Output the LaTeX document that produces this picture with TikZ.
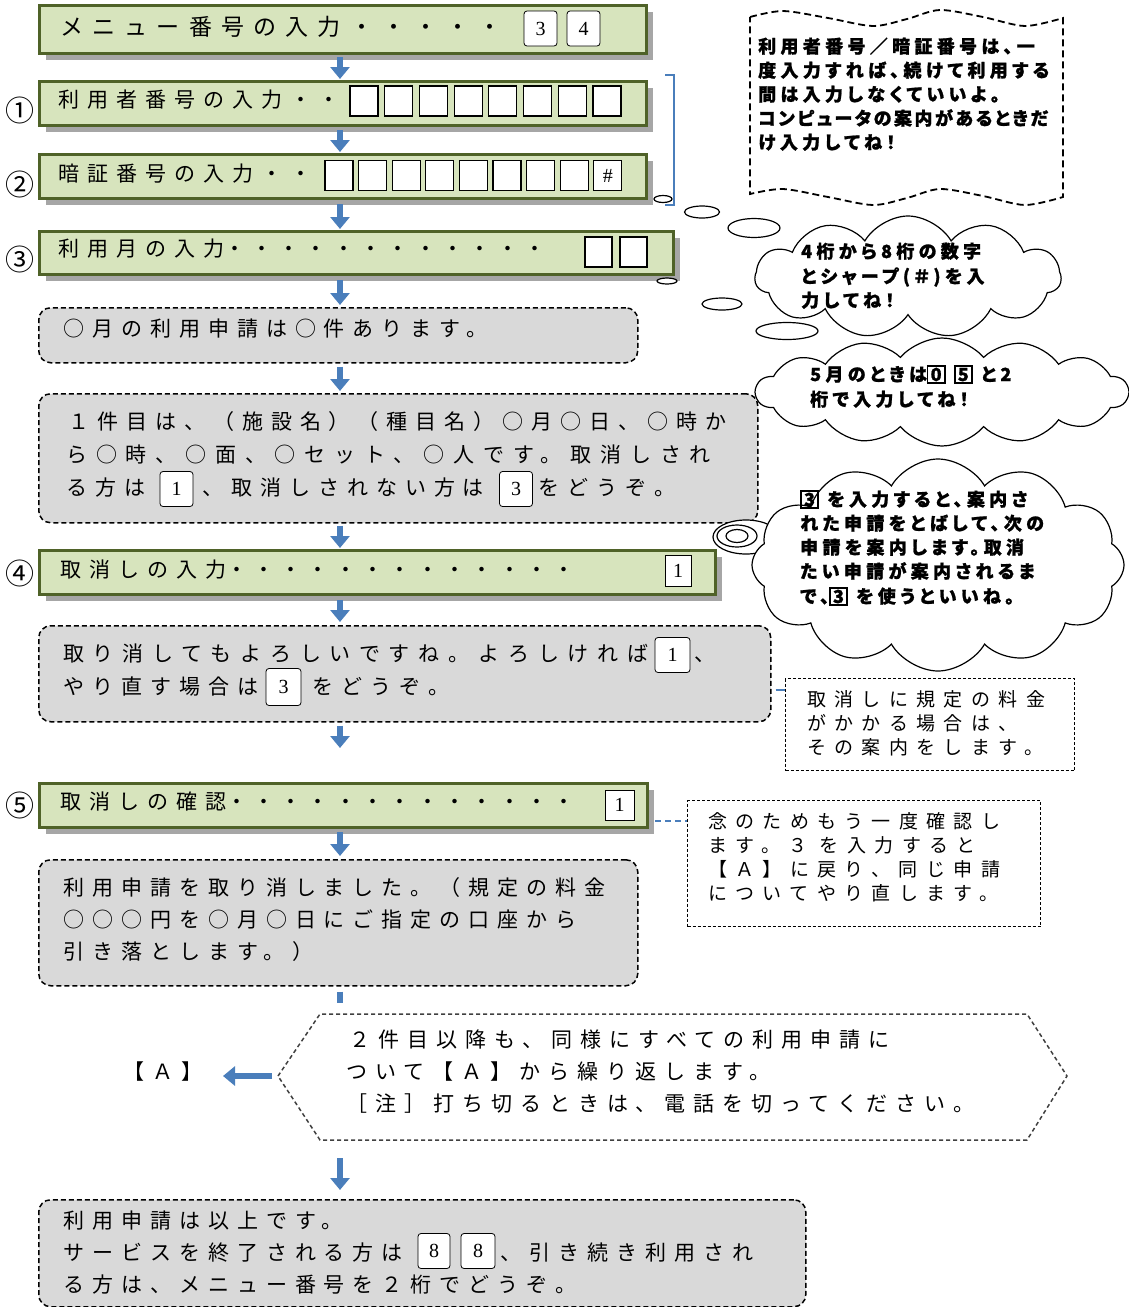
\documentclass[tikz,border=0pt]{standalone}
\usepackage{fontspec}
\setmainfont{Noto Sans CJK JP}
\newfontfamily\mj[LetterSpace=38]{Noto Sans CJK JP}
\newfontfamily\mjw[LetterSpace=42]{Noto Sans CJK JP}
\newfontfamily\mjt[LetterSpace=40]{Noto Sans CJK JP}
\newfontfamily\dotf[LetterSpace=30]{Noto Sans CJK JP}
\newfontfamily\nj[LetterSpace=44]{Noto Sans CJK JP}
\newfontfamily\pop[RawFeature=+palt,LetterSpace=24,BoldFeatures={FakeBold=1.2}]{Noto Sans CJK JP}
\newfontfamily\popn[RawFeature=+palt,LetterSpace=14,BoldFeatures={FakeBold=1.2}]{Noto Sans CJK JP}
\newfontfamily\dig{Liberation Serif}
\usetikzlibrary{shapes.symbols,arrows.meta,shadows}
\setlength\fboxsep{1pt}
\setlength\fboxrule{1.6pt}
\newcommand\pbx[1]{\fbox{\makebox[0.75em]{#1}}}
\definecolor{gfill}{HTML}{D7E4BD}
\definecolor{gline}{HTML}{4F6228}
\definecolor{shadowc}{HTML}{A6A6A6}
\definecolor{grayfill}{HTML}{D9D9D9}
\definecolor{flowblue}{HTML}{4A7EBB}
\begin{document}
\begin{tikzpicture}[x=1pt,y=-1pt,
  gbox/.style={fill=gfill, draw=gline, line width=3pt, anchor=north west, inner sep=0,
    drop shadow={shadow xshift=6pt, shadow yshift=-6pt, fill=shadowc, opacity=1}},
  dbox/.style={fill=grayfill, draw=black, line width=1.5pt, dash pattern=on 5pt off 3pt,
    rounded corners=12pt, anchor=north west, inner sep=0},
  note/.style={draw=black, line width=1pt, dash pattern=on 3pt off 2pt, anchor=north west, inner sep=0},
  flow/.style={draw=flowblue, line width=6pt, -{Triangle[width=19pt,length=12pt]}},
  txt/.style={anchor=west, inner sep=0, text height=17pt, text depth=4pt, font=\mj\fontsize{21}{21}\selectfont},
  ttxt/.style={anchor=west, inner sep=0, text height=19pt, text depth=4pt, font=\mjt\fontsize{23}{23}\selectfont},
  ntxt/.style={anchor=west, inner sep=0, text height=15.5pt, text depth=3.5pt, font=\nj\fontsize{19}{19}\selectfont},
  ptxt/.style={anchor=west, inner sep=0, text height=15pt, text depth=3pt, font=\pop\bfseries\fontsize{18}{18}\selectfont},
  circ/.style={inner sep=0, font=\fontsize{29}{29}\selectfont},
  sq/.style={draw=black, fill=white, line width=1.2pt, inner sep=0, minimum width=28, minimum height=30},
  digbox/.style={draw=black, fill=white, line width=0.8pt, rounded corners=3pt, inner sep=0,
    minimum width=33, minimum height=35, font=\dig\fontsize{20}{20}\selectfont},
  sdig/.style={draw=black, fill=white, line width=1pt, inner sep=0, font=\dig\fontsize{20}{20}\selectfont},
  bubble/.style={draw=black, line width=1.2pt, fill=white},
  cloudc/.style={cloud, draw=black, fill=white, line width=1.2pt, inner sep=0, cloud puff arc=120}
]
\useasboundingbox (0,0) rectangle (1129,1307);
\coordinate (ax) at (340,0);

% ---------- green input rows ----------
\node[gbox, minimum width=607, minimum height=48] (m0) at (38,4) {};
\node[ttxt] (t0) at (60,28) {メニュー番号の入力・・・・・};
\node[digbox] (b03) at (540.5,28.5) {3};
\node[digbox] (b04) at (583.5,28.5) {4};

\node[gbox, minimum width=607, minimum height=44] (m1) at (38,80) {};
\node[circ] (c1) at (20,110) {①};
\node[txt] (t1) at (58,101) {利用者番号の入力・・};
\foreach \i in {0,...,7} \node[sq] (u\i) at ({364+34.7*\i},101) {};

\node[gbox, minimum width=607, minimum height=44] (m2) at (38,153) {};
\node[circ] (c2) at (20,184) {②};
\node[txt] (t2) at (58,175) {暗証番号の入力・・};
\foreach \i in {0,...,7} \node[sq] (p\i) at ({339+33.6*\i},175.5) {};
\node[sq, font=\dig\fontsize{20}{20}\selectfont] (p8) at ({339+33.6*8},175.5) {\#};

\node[gbox, minimum width=634, minimum height=43] (m3) at (38,230) {};
\node[circ] (c3) at (20,259) {③};
\node[txt] (t3) at (58,250) {利用月の入力{\dotf ・・・・・・・・・・・・}};
\node[sq, minimum width=27] (q1) at (598.5,252) {};
\node[sq, minimum width=27] (q2) at (633.5,252) {};

% bracket
\draw[flowblue, line width=1.5pt] (665,75) -- (674,75) -- (674,205) -- (665,205);

% ---------- gray boxes ----------
\node[dbox, minimum width=599, minimum height=55] (g1) at (38,307) {};
\node[txt] (tg1) at (63,330) {○月の利用申請は○件あります。};

\node[dbox, minimum width=719, minimum height=129] (g2) at (38,393) {};
\node[txt] (tg2a) at (68,423) {１件目は、（施設名）（種目名）○月○日、○時か};
\node[txt, font=\mjw\fontsize{21}{21}\selectfont] (tg2b) at (66,456) {ら○時、○面、○セット、○人です。取消しされ};
\node[txt] (tg2c) at (66,489) {る方は};
\node[digbox] (bg21) at (176.5,489) {1};
\node[txt] (tg2d) at (202,489) {、取消しされない方は};
\node[digbox] (bg23) at (516,489) {3};
\node[txt] (tg2e) at (538,489) {をどうぞ。};

\node[gbox, minimum width=676, minimum height=44] (m4) at (38,549) {};
\node[circ] (c4) at (20,573) {④};
\node[txt] (t4) at (60,571) {取消しの入力{\dotf ・・・・・・・・・・・・・}};
\node[sdig, minimum width=26, minimum height=31] (b41) at (678,571) {1};

\node[dbox, minimum width=732, minimum height=96] (g3) at (38,625) {};
\node[txt, font=\mjw\fontsize{21}{21}\selectfont] (tg3a) at (63,655) {取り消してもよろしいですね。よろしければ};
\node[digbox, minimum width=35] (bg31) at (672.5,655) {1};
\node[txt] (tg3b) at (694,655) {、};
\node[txt] (tg3c) at (63,688) {やり直す場合は};
\node[digbox, minimum width=35, minimum height=37] (bg33) at (283.5,687) {3};
\node[txt] (tg3d) at (312,688) {をどうぞ。};

\node[gbox, minimum width=608, minimum height=44] (m5) at (38,782) {};
\node[circ] (c5) at (20,805) {⑤};
\node[txt] (t5) at (60,803) {取消しの確認{\dotf ・・・・・・・・・・・・・}};
\node[sdig, minimum width=29, minimum height=30] (b51) at (619.5,805) {1};

\node[dbox, minimum width=599, minimum height=126] (g4) at (38,859) {};
\node[txt] (tg4a) at (63,889) {利用申請を取り消しました。（規定の料金};
\node[txt] (tg4b) at (63,921) {○○○円を○月○日にご指定の口座から};
\node[txt] (tg4c) at (63,953) {引き落とします。）};

% hexagon
\coordinate (hl) at (278,1076);
\coordinate (hr) at (1067,1076);
\draw[draw=black!75, line width=1.5pt, dash pattern=on 4pt off 3pt]
  (hl) -- (320,1014) -- (1027,1014) -- (hr) -- (1027,1140) -- (320,1140) -- cycle;
\node[txt] (th1) at (349,1041) {２件目以降も、同様にすべての利用申請に};
\node[txt] (th2) at (346,1073) {ついて【Ａ】から繰り返します。};
\node[txt] (th3) at (346,1105) {［注］打ち切るときは、電話を切ってください。};
\node[txt, anchor=center] (alab) at (163,1073) {【Ａ】};
\coordinate (atip) at (223,1076);

\node[dbox, minimum width=767, minimum height=107] (g5) at (38,1199) {};
\node[txt] (tg5a) at (63,1222) {利用申請は以上です。};
\node[txt] (tg5b) at (63,1254) {サービスを終了される方は};
\node[digbox, minimum width=32] (b81) at (434,1251) {8};
\node[digbox, minimum width=34] (b82) at (478,1251) {8};
\node[txt] (tg5c) at (500,1254) {、引き続き利用され};
\node[txt] (tg5d) at (63,1286) {る方は、メニュー番号を２桁でどうぞ。};

% ---------- flow arrows ----------
\draw[flow, shorten <=2pt, shorten >=1pt] (m0.south -| ax) -- (m1.north -| ax);
\draw[flow, shorten <=3pt, shorten >=1pt] (m1.south -| ax) -- (m2.north -| ax);
\draw[flow, shorten <=4pt, shorten >=1pt] (m2.south -| ax) -- (m3.north -| ax);
\draw[flow, shorten <=4pt, shorten >=2pt] (m3.south -| ax) -- (g1.north -| ax);
\draw[flow, shorten <=3pt, shorten >=2pt] (g1.south -| ax) -- (g2.north -| ax);
\draw[flow, shorten <=2pt, shorten >=1pt] (g2.south -| ax) -- (m4.north -| ax);
\draw[flow, shorten <=4pt, shorten >=3pt] (m4.south -| ax) -- (g3.north -| ax);
\coordinate (e8) at (340,748);
\draw[flow, shorten <=3pt] (g3.south -| ax) -- (e8);
\draw[flow, shorten <=3pt, shorten >=3pt] (m5.south -| ax) -- (g4.north -| ax);
\coordinate (e9) at (340,1003);
\draw[draw=flowblue, line width=6pt, shorten <=5pt] (g4.south -| ax) -- (e9);
\coordinate (s10) at (340,1158);
\draw[flow, shorten >=9pt] (s10) -- (g5.north -| ax);
\draw[flow, shorten <=6pt] (hl) -- (atip);

% ---------- notes ----------
\node[note, minimum width=289, minimum height=92] (n1) at (785,678) {};
\node[ntxt] (tn1a) at (807,700) {取消しに規定の料金};
\node[ntxt] (tn1b) at (807,724) {がかかる場合は、};
\node[ntxt] (tn1c) at (807,748) {その案内をします。};
\coordinate (y690) at (0,690);
\draw[flowblue, line width=2pt] (g3.east |- y690) ++(4,0) -- (n1.west |- y690);

\node[note, minimum width=353, minimum height=126] (n2) at (687,800) {};
\node[ntxt] (tn2a) at (708,822) {念のためもう一度確認し};
\node[ntxt] (tn2b) at (708,846) {ます。３ を入力すると};
\node[ntxt] (tn2c) at (708,870) {【Ａ】に戻り、同じ申請};
\node[ntxt] (tn2d) at (708,894) {についてやり直します。};
\coordinate (y821) at (0,821);
\draw[flowblue, line width=2pt, dash pattern=on 6pt off 4pt] (m5.east |- y821) ++(6,0) -- (n2.west |- y821);

% ---------- banner ----------
\draw[black, line width=1.8pt, dash pattern=on 7pt off 4pt]
  plot[smooth] coordinates {(750,17) (783,11) (828,18) (873,26) (907,19) (940,10) (983,17) (1025,26) (1063,18)}
  -- plot[smooth] coordinates {(1063,197) (1025,205) (983,196) (940,189) (907,198) (873,205) (828,197) (783,189) (750,194)}
  -- cycle;
\node[ptxt] (tb1) at (758,47) {利用者番号／暗証番号は、一};
\node[ptxt] (tb2) at (758,71) {度入力すれば、続けて利用する};
\node[ptxt] (tb3) at (758,95) {間は入力しなくていいよ。};
\node[ptxt, font=\popn\bfseries\fontsize{18}{18}\selectfont] (tb4) at (758,119) {コンピュータの案内があるときだ};
\node[ptxt] (tb5) at (758,143) {け入力してね！};

% ---------- thought bubbles ----------
\draw[bubble] (663,199) ellipse [x radius=9, y radius=3.5];
\draw[bubble] (702,212) ellipse [x radius=17.5, y radius=6];
\draw[bubble] (754,228) ellipse [x radius=26, y radius=9.5];
\draw[bubble] (722,304) ellipse [x radius=20, y radius=6];
\draw[bubble] (787,331) ellipse [x radius=31, y radius=8.5];
\draw[bubble] (667,281) ellipse [x radius=10, y radius=3];

\node[cloudc, cloud puffs=11, minimum width=306, minimum height=122] (cl1) at (908,277) {};
\node[ptxt] (tc1a) at (801,252) {4桁から8桁の数字};
\node[ptxt] (tc1b) at (801,277) {とシャープ(＃)を入};
\node[ptxt] (tc1c) at (801,301) {力してね！};

\node[cloudc, cloud puffs=14, cloud puff arc=100, minimum width=372, minimum height=108] (cl2) at (942,392) {};
\node[ptxt] (tc2a) at (810,375) {5月のときは\pbx{0} \pbx{5} と2};
\node[ptxt] (tc2b) at (810,400) {桁で入力してね！};

\draw[bubble] (746,537) ellipse [x radius=33, y radius=17];
\node[cloudc, cloud puffs=12, minimum width=372, minimum height=212] (cl3) at (938,565) {};
\draw[bubble, fill=none] (737,536) ellipse [x radius=20, y radius=11];
\draw[bubble, fill=none] (737,536) ellipse [x radius=11, y radius=6.5];
\node[ptxt] (tc3a) at (800,500) {\pbx{3} を入力すると、案内さ};
\node[ptxt] (tc3b) at (800,524) {れた申請をとばして、次の};
\node[ptxt] (tc3c) at (800,548) {申請を案内します。取消};
\node[ptxt] (tc3d) at (800,572) {たい申請が案内されるま};
\node[ptxt] (tc3e) at (800,597) {で、\pbx{3} を使うといいね。};
\end{tikzpicture}
\end{document}
